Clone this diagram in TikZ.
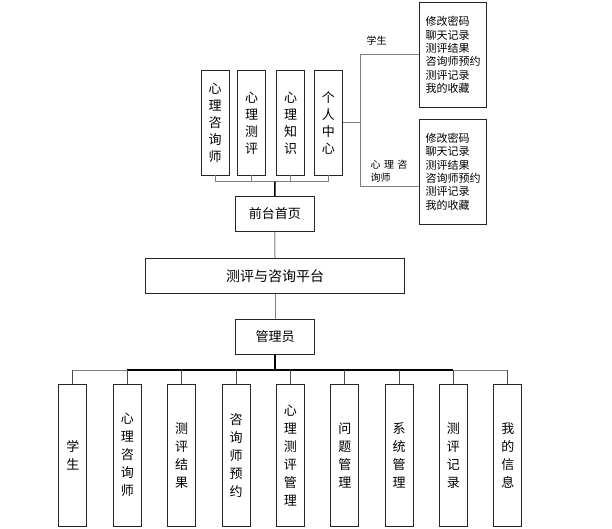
\documentclass[tikz,border=0pt]{standalone}
\usepackage{fontspec}
\setmainfont{Noto Sans CJK SC}
\usetikzlibrary{positioning}
\definecolor{linegray}{RGB}{128,128,128}
\tikzset{
  box/.style={draw=black!85, line width=0.9pt, inner sep=0pt, align=center},
  vbox/.style={box, minimum width=28pt, font=\fontsize{13}{17}\selectfont},
  hbox/.style={box, minimum height=35pt, font=\fontsize{13}{16}\selectfont},
  listbox/.style={box, minimum width=67.4pt, minimum height=104.6pt, text width=55pt, align=left, font=\fontsize{11}{13.3}\selectfont},
  grayline/.style={draw=linegray, line width=1pt},
  darkline/.style={draw=black, line width=1.5pt},
}
\begin{document}
\begin{tikzpicture}[x=1pt,y=-1pt]
\useasboundingbox (0,0) rectangle (612,529);
% front page menus
\node[vbox, minimum height=104.3pt] (t1) at (215,122.9) {心\\理\\咨\\询\\师};
\node[vbox, minimum height=104.3pt] (t2) at (251.7,122.9) {心\\理\\测\\评};
\node[vbox, minimum height=104.3pt] (t3) at (290.5,122.9) {心\\理\\知\\识};
\node[vbox, minimum height=104.3pt] (t4) at (328.3,122.9) {个\\人\\中\\心};
\node[hbox, minimum width=78.3pt] (home) at (274.9,213.9) {前台首页};
\node[hbox, minimum width=258.6pt, font=\fontsize{14}{16}\selectfont] (plat) at (275,275.8) {测评与咨询平台};
\node[hbox, minimum width=78.6pt] (admin) at (275,336.8) {管理员};
% personal centre
\node[listbox] (stubox) at (453,55) {修改密码\\聊天记录\\测评结果\\咨询师预约\\测评记录\\我的收藏};
\node[listbox] (teabox) at (453,171.7) {修改密码\\聊天记录\\测评结果\\咨询师预约\\测评记录\\我的收藏};
\node[font=\fontsize{10}{12}\selectfont, inner sep=0pt] (stulabel) at (376.7,40.7) {学生};
\node[font=\fontsize{10}{12.7}\selectfont, inner sep=0pt, align=left] (tealabel) at (389,171.3) {心\,\,理\,\,咨\\询师};
% admin menus
\foreach \txt [count=\i] in {{学\\生},{心\\理\\咨\\询\\师},{测\\评\\结\\果},{咨\\询\\师\\预\\约},{心\\理\\测\\评\\管\\理},{问\\题\\管\\理},{系\\统\\管\\理},{测\\评\\记\\录},{我\\的\\信\\息}}
  \node[vbox, minimum height=141.7pt, font=\fontsize{13}{18}\selectfont] (b\i) at ({72.9+(\i-1)*54.37},455.2) {\txt};
% connectors
\coordinate (topbus) at (275,181.7);
\coordinate (split) at (360,123);
\coordinate (split2) at (360,186.7);
\coordinate (botbus) at (275,370);
\draw[grayline] (t1.south) -- (t1.south |- topbus) -- (t4.south |- topbus) -- (t4.south);
\foreach \n in {t2,t3}
  \draw[grayline] (\n.south) -- (\n.south |- topbus);
\draw[darkline] (home.north) -- (topbus);
\draw[grayline] (home.south) -- (plat.north);
\draw[grayline] (plat.south) -- (admin.north);
\draw[grayline] (t4.east |- split) -- (split);
\draw[grayline] (split |- stubox.west) -- (split2);
\draw[grayline] (split |- stubox.west) -- (stubox.west);
\draw[grayline] (split2) -- (teabox.west |- split2);
\draw[darkline] (admin.south) -- (botbus);
\draw[grayline] (b1.north |- botbus) -- (b2.north |- botbus);
\draw[grayline] (b8.north |- botbus) -- (b9.north |- botbus);
\draw[draw=black, line width=1.3pt] (b2.north |- botbus) -- (b8.north |- botbus);
\foreach \i in {1,...,9}
  \draw[draw=black!70, line width=1pt] (b\i.north) -- (b\i.north |- botbus);
\end{tikzpicture}
\end{document}
